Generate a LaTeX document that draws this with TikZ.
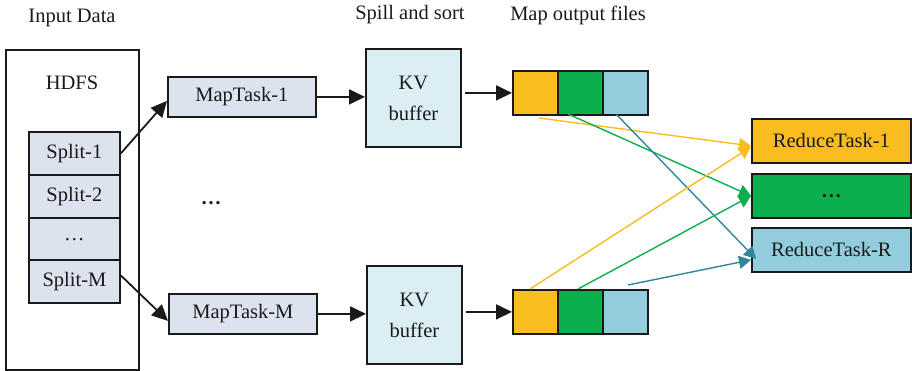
\documentclass[tikz,border=0pt]{standalone}
\usepackage{fontspec}
\setmainfont{Liberation Serif}
\usetikzlibrary{arrows.meta}
\definecolor{splitfill}{HTML}{DCE3EF}
\definecolor{kvfill}{HTML}{DAEEF3}
\definecolor{cyel}{HTML}{F9BD20}
\definecolor{cgrn}{HTML}{0BAF4D}
\definecolor{cblu}{HTML}{93CDDD}
\definecolor{cbline}{HTML}{31859C}
\definecolor{edgec}{HTML}{1A1A1A}
\begin{document}
\begin{tikzpicture}[x=1pt,y=-1pt,
  font=\fontsize{20.5}{31}\selectfont,
  every node/.style={text=edgec},
  box/.style={draw=edgec, line width=1.8pt, inner sep=0pt, anchor=north west, align=center},
  splitbox/.style={box, fill=splitfill, minimum width=91pt, minimum height=43pt},
  mapbox/.style={box, fill=splitfill, minimum width=148pt, minimum height=40pt},
  kvbox/.style={box, fill=kvfill, minimum width=95pt, minimum height=98pt},
  cell/.style={box, minimum width=45pt, minimum height=44pt},
  redbox/.style={box, minimum width=159pt, minimum height=44pt},
  blk/.style={-{Triangle[length=16pt,width=15pt]}, line width=1.8pt, draw=edgec},
  col/.style={-{Triangle[length=12pt,width=13pt]}, line width=1.4pt},
  lbl/.style={inner sep=0pt}]
\useasboundingbox (0,0) rectangle (912,371);
% headers
\node[lbl] (hin) at (72,18) {Input Data};
\node[lbl] (hsp) at (410,15) {Spill and sort};
\node[lbl] (hmo) at (578,15) {Map output files};
% HDFS
\node[box, minimum width=133pt, minimum height=320pt] (hdfs) at (5,49) {};
\node[lbl] (hdfslbl) at (72,83) {HDFS};
\node[splitbox] (s1) at (28,131) {Split-1};
\node[splitbox] (s2) at (28,174) {Split-2};
\node[splitbox] (s3) at (28,217) {\dots};
\node[splitbox] (sm) at (28,259) {Split-M};
% map tasks
\node[mapbox] (m1) at (167,76) {MapTask-1};
\node[mapbox] (mm) at (168,293) {MapTask-M};
\node[lbl] (mdots) at (211,203) {\textbf{\dots}};
% KV buffers
\node[kvbox] (kv1) at (365,48) {KV\\buffer};
\node[kvbox] (kvm) at (366,265) {KV\\buffer};
% output files
\node[cell, fill=cyel] (o1a) at (512,70) {};
\node[cell, fill=cgrn] (o1b) at (557,70) {};
\node[cell, fill=cblu] (o1c) at (602,70) {};
\node[cell, fill=cyel] (oma) at (512,289) {};
\node[cell, fill=cgrn] (omb) at (557,289) {};
\node[cell, fill=cblu] (omc) at (602,289) {};
% reduce tasks
\node[redbox, fill=cyel] (r1) at (751,118) {ReduceTask-1};
\node[redbox, fill=cgrn] (r2) at (751,173) {\textbf{\dots}};
\node[redbox, fill=cblu] (r3) at (751,227) {ReduceTask-R};
% black arrows
\draw[blk] (s1.east) -- ([yshift=-4pt]m1.west);
\draw[blk] ([yshift=6pt]sm.east) -- ([yshift=-7pt]mm.west);
\draw[blk] (m1.east) -- (kv1.west|-m1.east);
\draw[blk] (mm.east) -- (kvm.west|-mm.east);
\draw[blk, shorten <=3pt] (kv1.east|-o1a.west) -- (o1a.west);
\draw[blk, shorten <=3pt] (kvm.east|-oma.west) -- (oma.west);
% shuffle
\coordinate (y1) at (539,118);
\coordinate (g1) at (568,114);
\coordinate (b1) at (616,114);
\coordinate (ym) at (530,289);
\coordinate (gm) at (578,289);
\coordinate (bm) at (628,285);
\draw[col, cyel] (y1) -- ([yshift=-5pt]r1.west);
\draw[col, cgrn] (g1) -- (r2.west);
\draw[col, cbline] (b1) -- ([xshift=5pt,yshift=-9pt]r3.west);
\draw[col, cyel] (ym) -- ([yshift=-6pt]r1.west);
\draw[col, cgrn] (gm) -- (r2.west);
\draw[col, cbline] (bm) -- ([yshift=-10pt]r3.west);
\end{tikzpicture}
\end{document}
